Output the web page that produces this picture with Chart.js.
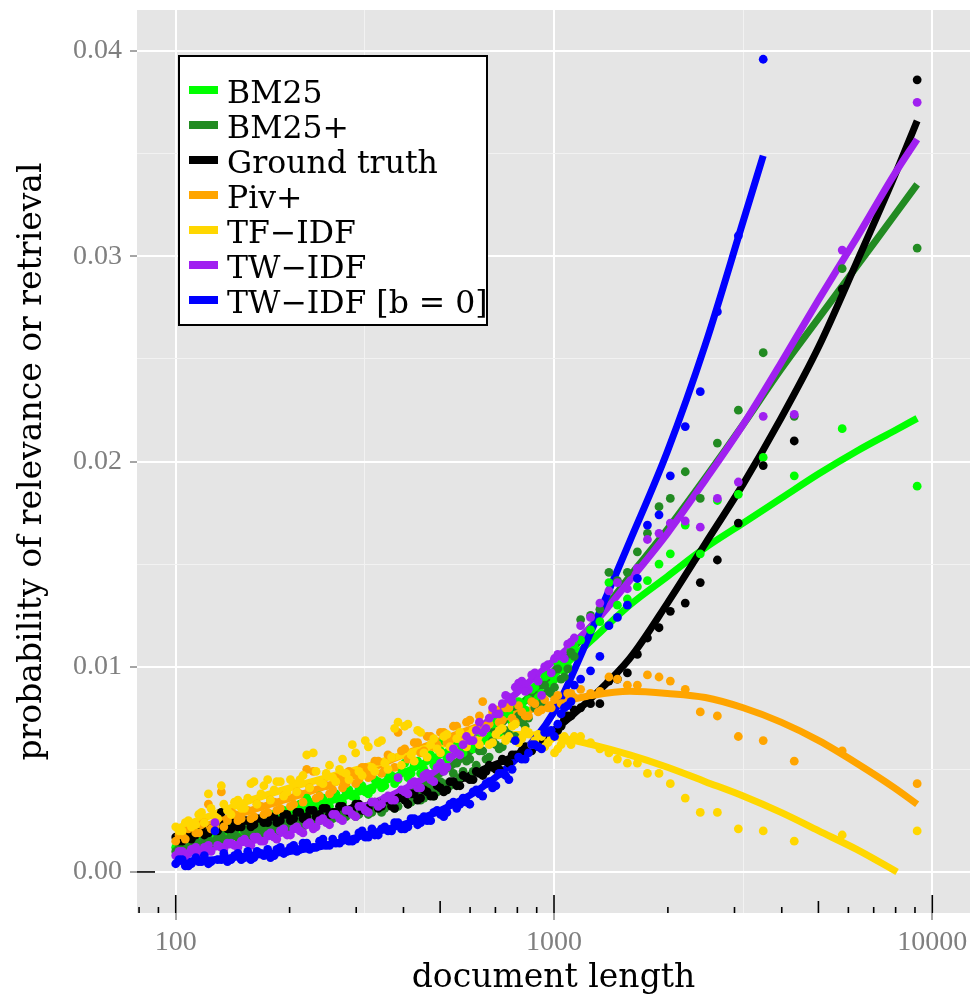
<!DOCTYPE html>
<html><head><meta charset="utf-8">
<script src="https://cdn.jsdelivr.net/npm/chart.js@4.4.0/dist/chart.umd.min.js"></script>
<style>html,body{margin:0;padding:0;background:#fff;} canvas{display:block;}</style>
</head><body>
<canvas id="c" width="970" height="999"></canvas>
<script>
// ---------------- data ----------------
const seriesNames = ['BM25', 'BM25+', 'Ground truth', 'Piv+', 'TF\u2212IDF', 'TW\u2212IDF', 'TW\u2212IDF [b = 0]'];
const seriesColors = ['#00FF00', '#228B22', '#000000', '#FFA500', '#FFD700', '#A020F0', '#0000FF'];

// document-length bins (shared by all series)
const docLengthBins = [100,104,108,113,117,122,127,132,137,143,149,155,161,168,175,182,189,197,205,213,222,231,240,250,260,271,282,293,305,317,330,343,357,372,387,403,419,436,453,472,491,511,531,553,575,599,623,648,674,702,730,760,790,822,856,890,927,964,1003,1044,1087,1131,
  1176,1249,1322,1397,1471,1563,1661,1766,1895,2030,2223,2436,2703,3071,3573,4316,5779,9120];
const docLengthBinsFine = [102,106,110,115,119,124,129,134,140,146,152,158,164,171,178,185,193,201,209,217,226,235,245,255,265,276,287,299,311,323,336,350,364,379,395,411,427,444,462,481,501,521,542,564,587,611,635,661,688,716,745,775,806,839,873,908,945,983,1023,1065,1109];

const bm25Points = [.0012,.0015,.0013,.0017,.0016,.0019,.0017,.0021,.0018,.0022,.0020,.0023,.0021,.0026,.0023,.0028,.0025,.0029,.0027,.0033,.0036,.0032,.0037,.0033,.0036,.0035,.0039,.0037,.0041,.0039,.0040,.0044,.0042,.0047,.0045,.0053,.0048,.0054,.0050,.0057,.0054,.0064,.0057,.0061,.0058,.0066,.0062,.0068,.0066,.0073,.0069,.0078,.0075,.0082,.0084,.0090,.0087,.0096,.0094,.0101,.0100,.0110,
  .0113,.0118,.0122,.0141,.0130,.0133,.0139,.0142,.0150,.0155,.0169,.0155,.0181,.0184,.0202,.0193,.0216,.0188];
const bm25PointsFine = [.0014,.0012,.0016,.0014,.0018,.0016,.0020,.0018,.0022,.0019,.0024,.0021,.0025,.0023,.0028,.0024,.0030,.0026,.0032,.0029,.0034,.0031,.0036,.0032,.0038,.0034,.0040,.0036,.0042,.0038,.0045,.0041,.0047,.0043,.0050,.0046,.0052,.0048,.0056,.0052,.0059,.0055,.0062,.0058,.0064,.0060,.0068,.0064,.0072,.0068,.0077,.0073,.0083,.0079,.0089,.0085,.0095,.0091,.0102,.0098,.0108];

const bm25PlusPoints = [.0010,.0013,.0012,.0015,.0013,.0016,.0015,.0018,.0016,.0020,.0022,.0021,.0019,.0022,.0020,.0024,.0021,.0025,.0023,.0026,.0024,.0027,.0025,.0029,.0026,.0029,.0027,.0030,.0028,.0031,.0029,.0033,.0031,.0034,.0032,.0036,.0034,.0038,.0036,.0041,.0039,.0043,.0042,.0053,.0049,.0055,.0052,.0059,.0056,.0062,.0061,.0067,.0066,.0073,.0075,.0080,.0082,.0088,.0090,.0094,.0099,.0105,
  .0123,.0125,.0128,.0146,.0142,.0146,.0156,.0165,.0178,.0182,.0195,.0182,.0209,.0225,.0253,.0222,.0294,.0304];
const bm25PlusPointsFine = [.0012,.0010,.0014,.0012,.0016,.0014,.0017,.0015,.0019,.0017,.0020,.0017,.0022,.0019,.0023,.0020,.0024,.0021,.0026,.0022,.0027,.0024,.0028,.0025,.0029,.0026,.0030,.0027,.0031,.0028,.0033,.0029,.0034,.0031,.0036,.0033,.0038,.0035,.0041,.0037,.0044,.0040,.0048,.0046,.0054,.0049,.0059,.0055,.0064,.0060,.0069,.0065,.0076,.0071,.0083,.0079,.0091,.0087,.0099,.0095,.0107];

const groundTruthPoints = [.0017,.0015,.0019,.0018,.0021,.0019,.0022,.0029,.0021,.0024,.0022,.0025,.0023,.0026,.0024,.0027,.0025,.0028,.0026,.0029,.0027,.0030,.0028,.0031,.0029,.0032,.0030,.0031,.0033,.0030,.0034,.0031,.0035,.0032,.0036,.0035,.0038,.0035,.0040,.0037,.0042,.0039,.0044,.0042,.0047,.0045,.0049,.0047,.0052,.0050,.0055,.0053,.0057,.0059,.0060,.0063,.0062,.0065,.0068,.0071,.0076,.0079,
  .0080,.0082,.0082,.0093,.0094,.0097,.0106,.0114,.0119,.0127,.0131,.0141,.0152,.0170,.0198,.0210,.0284,.0386];
const groundTruthPointsFine = [.0015,.0018,.0016,.0020,.0018,.0021,.0020,.0023,.0021,.0022,.0025,.0022,.0026,.0024,.0027,.0024,.0028,.0025,.0029,.0026,.0030,.0027,.0031,.0028,.0029,.0032,.0029,.0033,.0030,.0031,.0034,.0032,.0035,.0031,.0037,.0033,.0038,.0036,.0039,.0037,.0041,.0040,.0044,.0042,.0046,.0045,.0048,.0049,.0051,.0050,.0054,.0057,.0056,.0061,.0059,.0064,.0063,.0068,.0069,.0074,.0076];

const pivPlusPoints = [.0015,.0018,.0021,.0019,.0023,.0033,.0022,.0039,.0025,.0028,.0026,.0030,.0027,.0032,.0029,.0034,.0031,.0036,.0033,.0038,.0050,.0049,.0037,.0042,.0040,.0045,.0043,.0048,.0045,.0051,.0047,.0054,.0050,.0056,.0068,.0060,.0056,.0063,.0059,.0066,.0062,.0068,.0064,.0071,.0067,.0074,.0070,.0083,.0072,.0079,.0074,.0080,.0073,.0078,.0076,.0082,.0079,.0080,.0084,.0082,.0087,.0085,
  .0089,.0087,.0088,.0095,.0094,.0091,.0091,.0096,.0095,.0093,.0089,.0078,.0076,.0066,.0064,.0054,.0059,.0043];
const pivPlusPointsFine = [.0018,.0016,.0022,.0019,.0024,.0021,.0026,.0022,.0029,.0025,.0030,.0026,.0033,.0028,.0035,.0030,.0037,.0032,.0039,.0034,.0041,.0036,.0043,.0038,.0046,.0041,.0049,.0043,.0051,.0046,.0054,.0048,.0057,.0051,.0059,.0055,.0063,.0058,.0066,.0061,.0068,.0063,.0071,.0066,.0073,.0069,.0076,.0071,.0078,.0073,.0080,.0075,.0081,.0076,.0083,.0078,.0084,.0080,.0086,.0082,.0087];

const tfIdfPoints = [.0022,.0020,.0025,.0023,.0029,.0038,.0027,.0042,.0030,.0034,.0031,.0036,.0044,.0038,.0045,.0040,.0044,.0039,.0043,.0045,.0057,.0058,.0044,.0048,.0046,.0050,.0048,.0062,.0049,.0064,.0051,.0063,.0053,.0056,.0073,.0071,.0057,.0069,.0058,.0062,.0060,.0066,.0061,.0065,.0063,.0067,.0064,.0068,.0062,.0067,.0070,.0066,.0072,.0065,.0068,.0064,.0066,.0063,.0058,.0062,.0064,.0066,
  .0066,.0063,.0060,.0058,.0055,.0053,.0053,.0048,.0048,.0043,.0036,.0029,.0029,.0021,.0020,.0015,.0018,.0020];
const tfIdfPointsFine = [.0020,.0024,.0022,.0028,.0024,.0031,.0026,.0033,.0028,.0035,.0031,.0043,.0033,.0042,.0035,.0044,.0037,.0045,.0039,.0047,.0041,.0049,.0043,.0052,.0044,.0055,.0045,.0058,.0047,.0061,.0049,.0064,.0050,.0070,.0052,.0072,.0054,.0068,.0056,.0065,.0058,.0067,.0060,.0068,.0061,.0069,.0062,.0070,.0063,.0069,.0064,.0071,.0063,.0069,.0062,.0067,.0061,.0065,.0060,.0066,.0062];

const twIdfPoints = [.0008,.0010,.0009,.0012,.0010,.0013,.0024,.0012,.0014,.0013,.0015,.0014,.0017,.0015,.0018,.0017,.0020,.0018,.0021,.0020,.0023,.0021,.0025,.0024,.0028,.0026,.0030,.0028,.0032,.0030,.0034,.0032,.0036,.0035,.0046,.0039,.0043,.0041,.0047,.0045,.0051,.0049,.0056,.0058,.0062,.0064,.0069,.0068,.0075,.0077,.0082,.0085,.0090,.0093,.0089,.0097,.0086,.0101,.0104,.0105,.0111,.0114,
  .0120,.0124,.0131,.0137,.0141,.0138,.0148,.0162,.0165,.0170,.0171,.0168,.0182,.0190,.0222,.0223,.0303,.0375];
const twIdfPointsFine = [.0010,.0008,.0011,.0009,.0012,.0010,.0013,.0011,.0014,.0012,.0016,.0013,.0017,.0015,.0019,.0016,.0021,.0018,.0022,.0019,.0024,.0022,.0026,.0023,.0028,.0025,.0030,.0027,.0032,.0029,.0034,.0033,.0037,.0035,.0040,.0038,.0044,.0041,.0048,.0044,.0053,.0051,.0060,.0057,.0066,.0064,.0073,.0070,.0080,.0077,.0086,.0083,.0092,.0088,.0096,.0093,.0100,.0097,.0106,.0104,.0112];

const twIdfB0Points = [.0004,.0006,.0003,.0007,.0005,.0004,.0020,.0006,.0005,.0008,.0006,.0010,.0007,.0009,.0011,.0008,.0012,.0010,.0013,.0011,.0014,.0012,.0015,.0013,.0016,.0014,.0018,.0015,.0019,.0017,.0021,.0018,.0022,.0020,.0024,.0021,.0026,.0023,.0027,.0025,.0030,.0027,.0033,.0031,.0036,.0033,.0040,.0037,.0044,.0042,.0048,.0045,.0064,.0055,.0058,.0062,.0060,.0068,.0066,.0077,.0081,.0091,
  .0094,.0098,.0105,.0120,.0124,.0130,.0143,.0169,.0174,.0193,.0217,.0234,.0273,.0310,.0396,null,null,null];
const twIdfB0PointsFine = [.0006,.0003,.0004,.0005,.0008,.0005,.0006,.0009,.0006,.0009,.0007,.0006,.0010,.0008,.0007,.0011,.0009,.0012,.0010,.0014,.0011,.0012,.0016,.0013,.0014,.0017,.0015,.0016,.0020,.0017,.0018,.0021,.0020,.0024,.0021,.0022,.0026,.0024,.0025,.0029,.0028,.0029,.0034,.0033,.0034,.0039,.0038,.0043,.0041,.0048,.0047,.0050,.0056,.0055,.0062,.0061,.0068,.0069,.0072,.0080,.0083];

// smoothed fits, sampled at these document lengths
const smoothX = [100,126,158,200,251,316,398,501,631,794,1000,1259,1585,1995,2512,3162,3573,3981,5012,6310,7943,8070,9120];
const bm25Smooth        = [.0013,.0017,.0022,.0028,.0034,.0040,.0048,.0057,.0067,.0080,.0096,.0113,.0130,.0144,.0158,.0170,null,.0182,.0194,.0205,.0215,null,.0221];
const bm25PlusSmooth    = [.0011,.0015,.0019,.0024,.0028,.0032,.0039,.0048,.0062,.0079,.0098,.0120,.0144,.0167,.0192,.0218,null,.0245,.0270,.0295,.0320,null,.0335];
const groundTruthSmooth = [.0016,.0020,.0023,.0026,.0029,.0032,.0036,.0041,.0049,.0057,.0069,.0085,.0104,.0131,.0160,.0189,null,.0221,.0256,.0297,.0339,null,.0366];
const pivPlusSmooth     = [.0016,.0024,.0030,.0036,.0042,.0049,.0057,.0064,.0071,.0077,.0082,.0086,.0088,.0087,.0085,.0080,null,.0073,.0064,.0053,.0041,null,.0033];
const tfIdfSmooth       = [.0021,.0028,.0035,.0041,.0046,.0051,.0057,.0062,.0065,.0067,.0066,.0062,.0057,.0051,.0044,.0037,null,.0029,.0020,.0011,null,.0000,null];
const twIdfSmooth       = [.0009,.0012,.0015,.0020,.0026,.0032,.0040,.0051,.0069,.0087,.0103,.0120,.0142,.0165,.0191,.0218,null,.0248,.0279,.0309,.0340,null,.0357];
const twIdfB0Smooth     = [.0005,.0006,.0008,.0010,.0013,.0018,.0023,.0030,.0040,.0055,.0078,.0118,.0161,.0205,.0257,.0317,.0349,null,null,null,null,null,null];

const xMajorTicks = [100, 1000, 10000];
const xMinorTicks = [316.2278, 3162.278];
const yMajorTicks = [0, 0.01, 0.02, 0.03, 0.04];
const yMinorTicks = [0.005, 0.015, 0.025, 0.035];
const logTickValues = [80,90,100,200,300,400,500,600,700,800,900,1000,2000,3000,4000,5000,6000,7000,8000,9000,10000];

// ---------------- build ----------------
const pointSets = [bm25Points, bm25PlusPoints, groundTruthPoints, pivPlusPoints, tfIdfPoints, twIdfPoints, twIdfB0Points];
const pointSetsFine = [bm25PointsFine, bm25PlusPointsFine, groundTruthPointsFine, pivPlusPointsFine, tfIdfPointsFine, twIdfPointsFine, twIdfB0PointsFine];
const smoothSets = [bm25Smooth, bm25PlusSmooth, groundTruthSmooth, pivPlusSmooth, tfIdfSmooth, twIdfSmooth, twIdfB0Smooth];

const toXY = (xs, ys) => xs.map((x, k) => ({x: x, y: ys[k]})).filter(p => p.y !== null && p.y !== undefined);

const datasets = [];
// smooth lines first (underneath), then points on top, each in series order
smoothSets.forEach((vals, i) => {
  datasets.push({
    type: 'line', label: seriesNames[i],
    data: toXY(smoothX, vals),
    borderColor: seriesColors[i], backgroundColor: seriesColors[i], borderWidth: 7,
    pointRadius: 0, cubicInterpolationMode: 'monotone', borderCapStyle: 'butt', fill: false,
    order: 200 - i
  });
});
pointSets.forEach((vals, i) => {
  datasets.push({
    type: 'scatter', label: seriesNames[i] + ' points',
    data: toXY(docLengthBins, vals).concat(toXY(docLengthBinsFine, pointSetsFine[i])),
    backgroundColor: seriesColors[i], borderWidth: 0, pointRadius: 4.4, pointHoverRadius: 4.4,
    order: 100 - i
  });
});

const panelBg = {
  id: 'panelBg',
  beforeDraw(chart) {
    const {ctx, chartArea: a} = chart;
    ctx.save(); ctx.fillStyle = '#E5E5E5';
    ctx.fillRect(a.left, a.top, a.right - a.left, a.bottom - a.top);
    ctx.restore();
  }
};

const logTicks = {
  id: 'logTicks',
  beforeDatasetsDraw(chart) {
    const {ctx, chartArea: a, scales: {x, y}} = chart;
    ctx.save(); ctx.strokeStyle = '#000'; ctx.lineWidth = 1.6;
    logTickValues.forEach(v => {
      const lead = Math.abs(Math.log10(v) - Math.round(Math.log10(v))) < 1e-9;
      const mid = String(v)[0] === '5';
      const len = lead ? 18 : (mid ? 12 : 6);
      const px = x.getPixelForValue(v);
      if (px < a.left || px > a.right) return;
      ctx.beginPath(); ctx.moveTo(px, a.bottom); ctx.lineTo(px, a.bottom - len); ctx.stroke();
    });
    const py = y.getPixelForValue(0);
    ctx.beginPath(); ctx.moveTo(a.left, py); ctx.lineTo(a.left + 18, py); ctx.stroke();
    ctx.restore();
  }
};

const legendBox = {
  id: 'legendBox',
  afterDraw(chart) {
    const ctx = chart.ctx;
    ctx.save();
    ctx.fillStyle = '#fff'; ctx.fillRect(178, 55, 310, 271);
    ctx.strokeStyle = '#000'; ctx.lineWidth = 2; ctx.strokeRect(179, 56, 308, 269);
    ctx.font = '31.5px "DejaVu Serif"'; ctx.textBaseline = 'alphabetic'; ctx.textAlign = 'left';
    seriesNames.forEach((name, i) => {
      const cy = 90 + 35 * i;
      ctx.fillStyle = seriesColors[i]; ctx.fillRect(189, cy - 4, 29, 8);
      ctx.fillStyle = '#000'; ctx.fillText(name, 227, cy + 12.7);
    });
    ctx.restore();
  }
};

const isMajor = (list, v) => list.some(m => Math.abs(m - v) < 1e-9 * Math.max(1, m));

new Chart(document.getElementById('c'), {
  data: {datasets},
  plugins: [panelBg, logTicks, legendBox],
  options: {
    responsive: false, animation: false, devicePixelRatio: 1,
    layout: {autoPadding: false, padding: {top: 10, right: 0, bottom: 0, left: 0}},
    plugins: {legend: {display: false}, tooltip: {enabled: false}},
    scales: {
      x: {
        type: 'logarithmic', min: 79, max: 12580, position: 'bottom',
        afterBuildTicks: s => { s.ticks = xMajorTicks.concat(xMinorTicks).sort((a,b)=>a-b).map(v => ({value: v})); },
        afterFit: s => { s.height = 86; s.paddingLeft = 0; s.paddingRight = 0; },
        grid: {
          color: c => isMajor(xMajorTicks, c.tick.value) ? '#FFFFFF' : '#F2F2F2',
          lineWidth: c => isMajor(xMajorTicks, c.tick.value) ? 2 : 1,
          tickColor: c => isMajor(xMajorTicks, c.tick.value) ? '#4D4D4D' : 'rgba(0,0,0,0)',
          tickLength: 7, tickWidth: 1
        },
        border: {display: false},
        ticks: {
          autoSkip: false, maxRotation: 0, padding: 6, color: '#7F7F7F',
          font: {family: 'Liberation Serif', size: 28},
          callback: v => isMajor(xMajorTicks, v) ? String(Math.round(v)) : ''
        },
        title: {display: true, text: 'document length', color: '#000',
          font: {family: 'DejaVu Serif', size: 33}, padding: {top: 0, bottom: 1}}
      },
      y: {
        type: 'linear', min: -0.002, max: 0.042, position: 'left',
        afterBuildTicks: s => { s.ticks = yMajorTicks.concat(yMinorTicks).sort((a,b)=>a-b).map(v => ({value: v})); },
        afterFit: s => { s.width = 137; s.paddingTop = 0; s.paddingBottom = 0; },
        grid: {
          color: c => isMajor(yMajorTicks, c.tick.value) ? '#FFFFFF' : '#F2F2F2',
          lineWidth: c => isMajor(yMajorTicks, c.tick.value) ? 2 : 1,
          tickColor: c => isMajor(yMajorTicks, c.tick.value) ? '#4D4D4D' : 'rgba(0,0,0,0)',
          tickLength: 7, tickWidth: 1
        },
        border: {display: false},
        ticks: {
          autoSkip: false, padding: 8, color: '#7F7F7F',
          font: {family: 'Liberation Serif', size: 28},
          callback: v => isMajor(yMajorTicks, v) ? v.toFixed(2) : ''
        },
        title: {display: true, text: 'probability of relevance or retrieval', color: '#000',
          font: {family: 'DejaVu Serif', size: 33}, padding: {top: 13, bottom: 0}}
      }
    }
  }
});
</script>
</body></html>
